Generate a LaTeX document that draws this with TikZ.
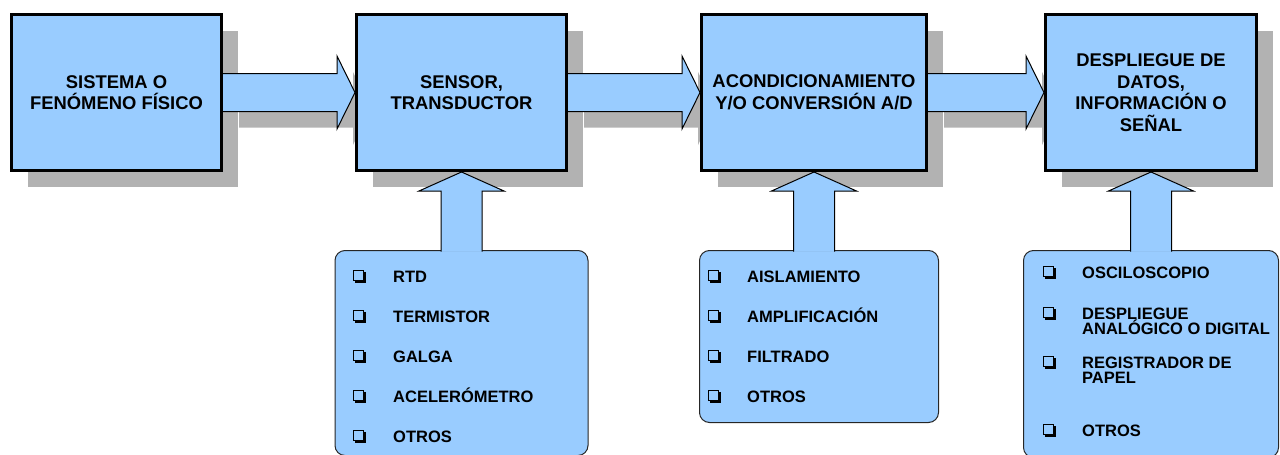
\documentclass[tikz,border=0pt]{standalone}
\usepackage{fontspec}
\setmainfont{Liberation Sans}
\usetikzlibrary{positioning,calc,shadows}
\definecolor{azul}{RGB}{153,204,255}
\definecolor{sombra}{RGB}{178,178,178}
\pgfdeclarelayer{fondo}
\pgfsetlayers{fondo,main}

\tikzset{
  bloque/.style={draw, line width=3pt, fill=azul, minimum height=156pt,
    align=center, font=\fontsize{18.4}{21.5}\selectfont\bfseries,
    drop shadow={shadow xshift=16pt, shadow yshift=-16pt, fill=sombra, opacity=1}},
  lista/.style={draw=black!85, line width=1pt, fill=azul, rounded corners=10pt},
  flecha/.style={draw, line width=1pt, fill=azul, line join=miter},
  casilla/.style={draw, line width=1.3pt, fill=azul, minimum size=10.5pt, inner sep=0pt,
    drop shadow={shadow xshift=1.8pt, shadow yshift=-1.8pt, fill=black, opacity=1}},
  elem/.style={font=\fontsize{16.5}{15}\selectfont\bfseries, inner sep=0pt, anchor=base west},
}

% texto de un elemento (una o dos lineas)
\newcommand\elemtxt[1]{\vtop{\let\\\cr\baselineskip=15pt\lineskiplimit=-20pt
  \halign{##\hfil\cr#1\crcr}}}
% flecha gruesa horizontal entre dos bloques
\newcommand\flechader[3][]{%
  \path[flecha,#1] ($(#2.east)+(0,19)$) -- ($(#3.west)+(-18,19)$)
    -- ($(#3.west)+(-18,36.5)$) -- (#3.west) -- ($(#3.west)+(-18,-36.5)$)
    -- ($(#3.west)+(-18,-19)$) -- ($(#2.east)+(0,-19)$);}
% flecha gruesa de una lista hacia su bloque
\newcommand\flechaarr[2]{%
  \path[flecha] ($(#2.south |- #1.north)+(-20.5,-1.5)$) -- ($(#2.south)+(-20.5,-19)$)
    -- ($(#2.south)+(-42.5,-19)$) -- (#2.south) -- ($(#2.south)+(42.5,-19)$)
    -- ($(#2.south)+(20.5,-19)$) -- ($(#2.south |- #1.north)+(20.5,-1.5)$);}

\begin{document}
\begin{tikzpicture}[x=1pt,y=1pt]
  \useasboundingbox (0,0) rectangle (1280,-455);

  % bloques
  \node[bloque, minimum width=210pt] (sistema) at (116.5,-92.5) {SISTEMA O\\FENÓMENO FÍSICO};
  \node[bloque, minimum width=210pt, right=132pt of sistema] (sensor) {SENSOR,\\TRANSDUCTOR};
  \node[bloque, minimum width=225pt, right=132pt of sensor] (acond) {ACONDICIONAMIENTO\\Y/O CONVERSIÓN A/D};
  \node[bloque, minimum width=211pt, right=116pt of acond] (despliegue) {DESPLIEGUE DE\\DATOS,\\INFORMACIÓN O\\SEÑAL};

  % listas
  \node[lista, minimum width=253pt, minimum height=205pt, below=78pt of sensor] (sensores) {};
  \node[lista, minimum width=239pt, minimum height=172pt, below=78pt of acond, xshift=5pt] (etapas) {};
  \node[lista, minimum width=255pt, minimum height=207pt, below=78pt of despliegue] (salidas) {};

  % flechas
  \begin{pgfonlayer}{fondo}
    \flechader[draw=none, fill=sombra, transform canvas={xshift=16pt, yshift=-16pt}]{sistema}{sensor}
    \flechader[draw=none, fill=sombra, transform canvas={xshift=16pt, yshift=-16pt}]{sensor}{acond}
    \flechader[draw=none, fill=sombra, transform canvas={xshift=16pt, yshift=-16pt}]{acond}{despliegue}
  \end{pgfonlayer}
  \flechader{sistema}{sensor}
  \flechader{sensor}{acond}
  \flechader{acond}{despliegue}
  \flechaarr{sensores}{sensor}
  \flechaarr{etapas}{acond}
  \flechaarr{salidas}{despliegue}

  % elementos
  \foreach \txt/\yb [count=\i] in {RTD/282, TERMISTOR/322, GALGA/362, ACELERÓMETRO/402, OTROS/442}{
    \node[casilla] (cs\i) at (358.5,6.5-\yb) {};
    \node[elem] (es\i) at (393,-\yb) {\elemtxt{\txt}};
  }
  \foreach \txt/\yb [count=\i] in {AISLAMIENTO/282, AMPLIFICACIÓN/322, FILTRADO/362, OTROS/402}{
    \node[casilla] (ce\i) at (713.5,6.5-\yb) {};
    \node[elem] (ee\i) at (747,-\yb) {\elemtxt{\txt}};
  }
  \foreach \txt/\yb [count=\i] in {OSCILOSCOPIO/278, DESPLIEGUE\\ANALÓGICO O DIGITAL/319, REGISTRADOR DE\\PAPEL/368, OTROS/436}{
    \node[casilla] (cd\i) at (1048.5,6.5-\yb) {};
    \node[elem] (ed\i) at (1082,-\yb) {\elemtxt{\txt}};
  }
\end{tikzpicture}
\end{document}
